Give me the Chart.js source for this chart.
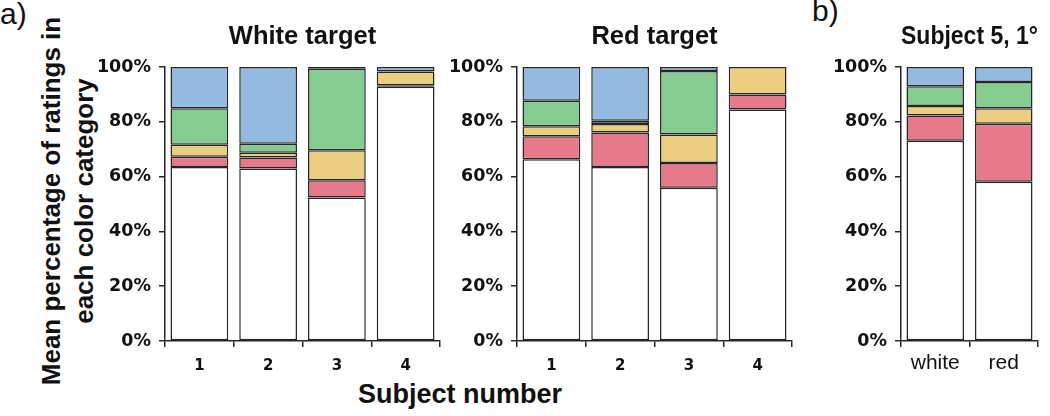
<!DOCTYPE html>
<html>
<head>
<meta charset="utf-8">
<script src="https://cdn.jsdelivr.net/npm/chart.js@4.4.1/dist/chart.umd.min.js"></script>
<style>
  body { margin: 0; width: 1050px; height: 416px; background: #fff; position: relative; overflow: hidden;
         font-family: "Liberation Sans", Arial, sans-serif; color: #111; }
  .box { position: absolute; top: 0; height: 416px; }
  .lbl { position: absolute; white-space: nowrap; }
</style>
</head>
<body>
<div class="lbl" style="left:0;top:-3px;font-size:30px;">a)</div>
<div class="lbl" style="left:812px;top:-6px;font-size:30px;">b)</div>
<div class="lbl" style="left:68px;top:201px;transform:translate(-50%,-50%) rotate(-90deg);font-weight:bold;font-size:26px;line-height:33px;text-align:center;">Mean percentage of ratings in<br>each color category</div>
<div class="lbl" style="left:460px;top:394px;transform:translate(-50%,-50%);font-weight:bold;font-size:27px;">Subject number</div>

<div class="box" style="left:0;width:442px;"><canvas id="white-target"></canvas></div>
<div class="box" style="left:437px;width:357px;"><canvas id="red-target"></canvas></div>
<div class="box" style="left:821px;width:219px;"><canvas id="subject5"></canvas></div>

<script>
// categories
const subjectLabels = ['1', '2', '3', '4'];
const s5Labels = ['white', 'red'];

// White target (% of ratings per colour category)
const wtWhite  = [63.5, 63.0, 52.4, 92.8];
const wtRed    = [3.7, 4.0, 6.3, 0.5];
const wtYellow = [4.4, 1.7, 10.9, 5.1];
const wtGreen  = [13.3, 3.3, 29.8, 0];
const wtBlue   = [15.1, 28.0, 0.6, 1.6];

// Red target
const rtWhite  = [66.3, 63.5, 55.9, 84.5];
const rtRed    = [8.4, 12.6, 9.1, 5.5];
const rtYellow = [3.7, 3.1, 10.4, 10.0];
const rtGreen  = [9.3, 1.2, 23.1, 0];
const rtBlue   = [12.3, 19.6, 1.5, 0];

// Subject 5, 1 deg
const s5White  = [73.1, 58.1];
const s5Red    = [9.2, 21.2];
const s5Yellow = [3.5, 5.6];
const s5Green  = [7.2, 9.6];
const s5Blue   = [7.0, 5.5];

const colors = {
    white: '#ffffff',
    red: '#e67a8a',
    yellow: '#ecce80',
    green: '#86cb90',
    blue: '#94badf'
};
const lineColor = '#262626';

function makePanel(id, title, labels, series, yWidth, tickFont, tickPad) {
    const names = ['white', 'red', 'yellow', 'green', 'blue'];
    const ctx = document.getElementById(id).getContext('2d');
    new Chart(ctx, {
        type: 'bar',
        data: {
            labels: labels,
            datasets: series.map((d, i) => ({
                label: names[i],
                data: d,
                backgroundColor: colors[names[i]],
                borderColor: lineColor,
                borderWidth: 1.5,
                borderSkipped: false,
                barPercentage: 0.84,
                categoryPercentage: 1.0
            }))
        },
        options: {
            responsive: true,
            maintainAspectRatio: false,
            animation: false,
            layout: { padding: { right: 2 } },
            plugins: {
                legend: { display: false },
                tooltip: { enabled: false },
                title: {
                    display: true,
                    text: title,
                    fullSize: false,
                    color: '#111',
                    font: { family: 'Liberation Sans', weight: 'bold', size: 25.5 },
                    padding: { top: 22, bottom: 14.4 }
                }
            },
            scales: {
                x: {
                    stacked: true,
                    grid: { display: true, drawOnChartArea: false, drawTicks: true, tickLength: 6,
                            color: lineColor, lineWidth: 1.5, offset: true },
                    border: { display: true, color: lineColor, width: 1.5 },
                    ticks: { color: '#111', font: tickFont, padding: tickPad },
                    afterFit: (s) => { s.height = 75; }
                },
                y: {
                    stacked: true,
                    min: 0,
                    max: 100,
                    grid: { display: true, drawOnChartArea: false, drawTicks: true, tickLength: 6,
                            color: lineColor, lineWidth: 1.5 },
                    border: { display: true, color: lineColor, width: 1.5 },
                    ticks: {
                        stepSize: 20,
                        color: '#111',
                        padding: 8,
                        font: { family: 'DejaVu Sans', weight: 'bold', size: 17.5 },
                        callback: (v) => v + '%'
                    },
                    afterFit: (s) => { s.width = yWidth; }
                }
            }
        }
    });
}

const numFont = { family: 'DejaVu Sans', weight: 'bold', size: 15 };
const wordFont = { family: 'Liberation Sans', size: 21 };

makePanel('white-target', 'White target', subjectLabels,
    [wtWhite, wtRed, wtYellow, wtGreen, wtBlue], 165, numFont, 10);
makePanel('red-target', 'Red target', subjectLabels,
    [rtWhite, rtRed, rtYellow, rtGreen, rtBlue], 80, numFont, 10);
makePanel('subject5', 'Subject 5, 1°', s5Labels,
    [s5White, s5Red, s5Yellow, s5Green, s5Blue], 80, wordFont, 4);
</script>
</body>
</html>
